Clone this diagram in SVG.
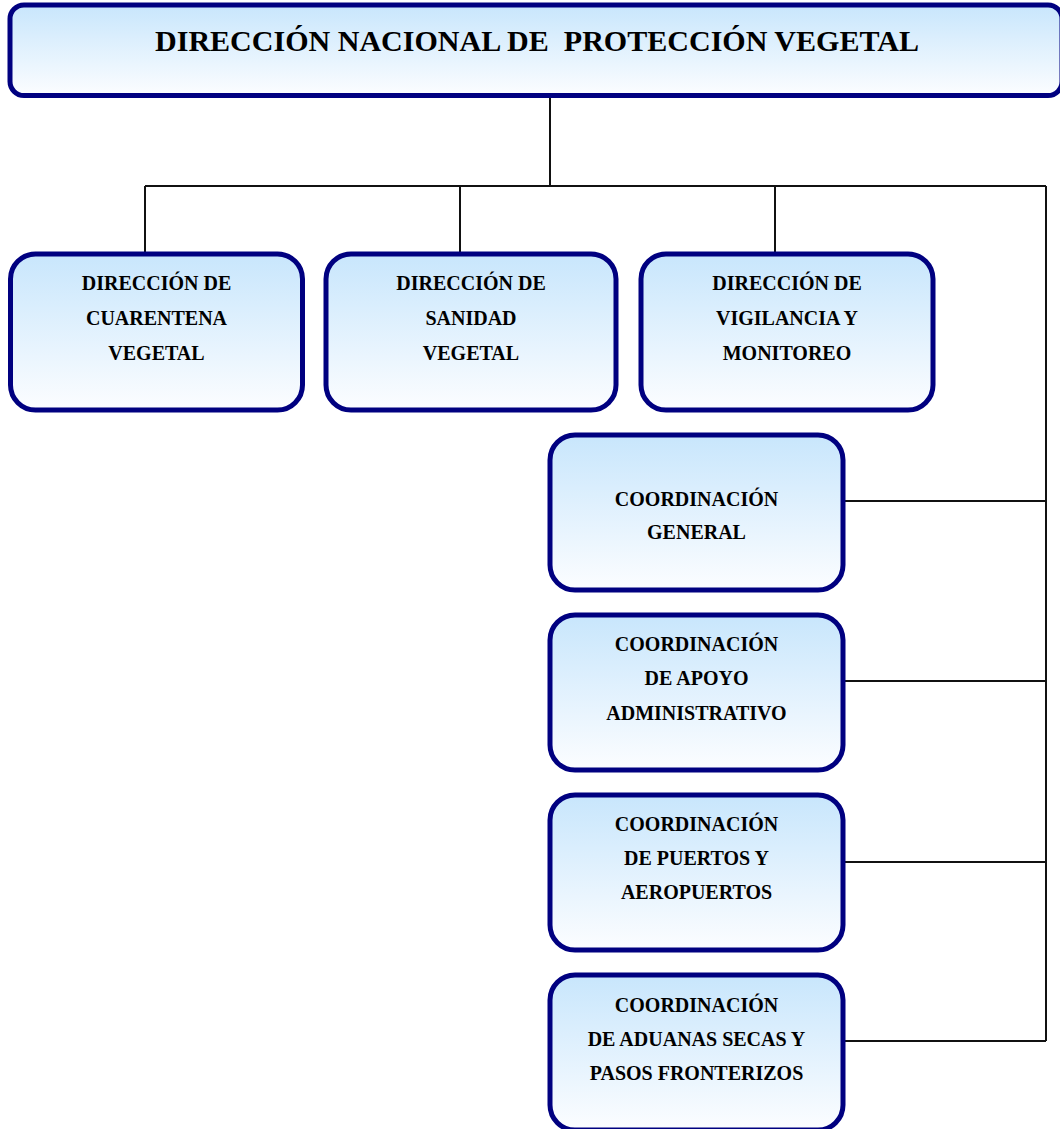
<svg xmlns="http://www.w3.org/2000/svg" width="1060" height="1129" viewBox="0 0 1060 1129">
<style>
.box{fill:url(#g);stroke:#000080;stroke-width:5}
.t{font-family:"Liberation Serif","Times New Roman",serif;font-weight:bold;font-size:20px;fill:#000;text-anchor:middle}
.title{font-family:"Liberation Serif","Times New Roman",serif;font-weight:bold;font-size:30px;fill:#000;text-anchor:middle}
.c{fill:none;stroke:#111;stroke-width:2}
</style>
<defs>
<linearGradient id="g" x1="0" y1="0" x2="0" y2="1">
<stop offset="0" stop-color="#c8e6fc"/>
<stop offset="1" stop-color="#fcfdff"/>
</linearGradient>
</defs>
<rect width="1060" height="1129" fill="#fff"/>
<g id="connectors">
<path class="c" d="M550 96V186M145 186H1046M145 186V254M460 186V254M775 186V254M1046 186V1041M843 501H1046M843 681H1046M843 862H1046M843 1041H1046"/>
</g>
<g id="top">
<rect class="box" x="10" y="5" width="1052" height="90.5" rx="14"/>
<text class="title" x="537" y="51" textLength="764" lengthAdjust="spacingAndGlyphs" xml:space="preserve">DIRECCIÓN NACIONAL DE  PROTECCIÓN VEGETAL</text>
</g>
<g id="n1">
<rect class="box" x="10.5" y="254" width="292" height="156" rx="25"/>
<text class="t" x="156.5" y="290">DIRECCIÓN DE</text>
<text class="t" x="156.5" y="325">CUARENTENA</text>
<text class="t" x="156.5" y="359.5">VEGETAL</text>
</g>
<g id="n2">
<rect class="box" x="326" y="254" width="290" height="156" rx="25"/>
<text class="t" x="471" y="290">DIRECCIÓN DE</text>
<text class="t" x="471" y="325">SANIDAD</text>
<text class="t" x="471" y="359.5">VEGETAL</text>
</g>
<g id="n3">
<rect class="box" x="641" y="254" width="292" height="156" rx="25"/>
<text class="t" x="787" y="290">DIRECCIÓN DE</text>
<text class="t" x="787" y="325">VIGILANCIA Y</text>
<text class="t" x="787" y="359.5">MONITOREO</text>
</g>
<g id="n4">
<rect class="box" x="550" y="435" width="293" height="155" rx="25"/>
<text class="t" x="696.5" y="506">COORDINACIÓN</text>
<text class="t" x="696.5" y="539">GENERAL</text>
</g>
<g id="n5">
<rect class="box" x="550" y="615" width="293" height="155" rx="25"/>
<text class="t" x="696.5" y="651">COORDINACIÓN</text>
<text class="t" x="696.5" y="685">DE APOYO</text>
<text class="t" x="696.5" y="720">ADMINISTRATIVO</text>
</g>
<g id="n6">
<rect class="box" x="550" y="795" width="293" height="155" rx="25"/>
<text class="t" x="696.5" y="831">COORDINACIÓN</text>
<text class="t" x="696.5" y="865">DE PUERTOS Y</text>
<text class="t" x="696.5" y="899">AEROPUERTOS</text>
</g>
<g id="n7">
<rect class="box" x="550" y="975" width="293" height="155" rx="25"/>
<text class="t" x="696.5" y="1012">COORDINACIÓN</text>
<text class="t" x="696.5" y="1046">DE ADUANAS SECAS Y</text>
<text class="t" x="696.5" y="1079.5">PASOS FRONTERIZOS</text>
</g>
</svg>
